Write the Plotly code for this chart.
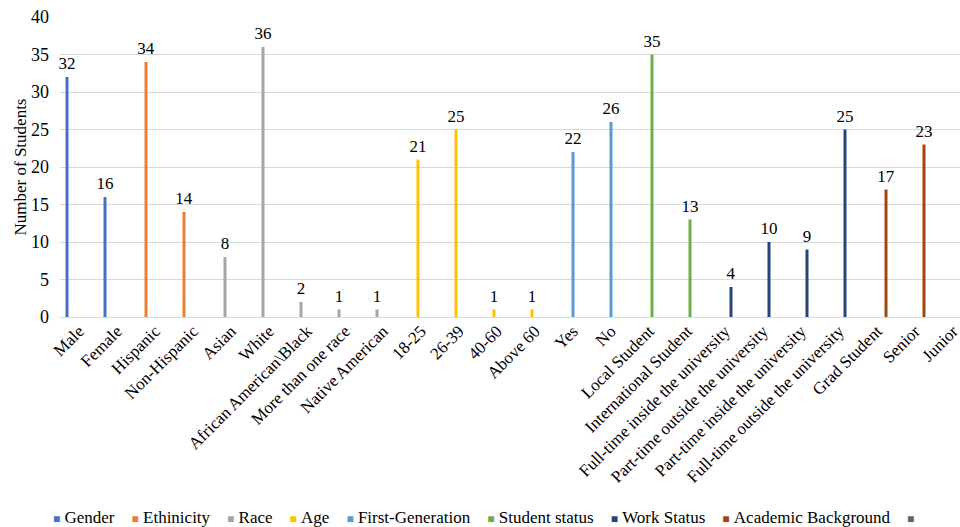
import plotly.graph_objects as go

categories = [
    "Male", "Female", "Hispanic", "Non-Hispanic", "Asian", "White",
    "African American\\Black", "More than one race", "Native American",
    "18-25", "26-39", "40-60", "Above 60", "Yes", "No",
    "Local Student", "International Student",
    "Full-time inside the university", "Part-time outside the university",
    "Part-time inside the university", "Full-time outside the university",
    "Grad Student", "Senior", "Junior",
]

series_names = ["Gender", "Ethinicity", "Race", "Age", "First-Generation",
                "Student status", "Work Status", "Academic Background", ""]

gender = [32, 16]
ethnicity = [34, 14]
race = [8, 36, 2, 1, 1]
age = [21, 25, 1, 1]
first_generation = [22, 26]
student_status = [35, 13]
work_status = [4, 10, 9, 25]
academic_background = [17, 23, 8]
blank_series = []

series_values = [gender, ethnicity, race, age, first_generation,
                 student_status, work_status, academic_background, blank_series]

colors = ["#4472C4", "#ED7D31", "#A5A5A5", "#FFC000", "#5B9BD5",
          "#70AD47", "#264478", "#9E480E", "#636363"]

FONT = "Liberation Serif"
LABEL_LIFT = 0.5  # gap (in axis units) between bar top and its value label

fig = go.Figure()

start = 0
for idx, (name, vals, col) in enumerate(zip(series_names, series_values, colors)):
    y = [None] * len(categories)
    for k, v in enumerate(vals):
        y[start + k] = v
    start += len(vals)
    grp = str(idx)
    # visible bars
    fig.add_trace(go.Bar(
        x=categories, y=y, name=name if name else " ",
        offsetgroup=grp,
        marker=dict(color=col, line=dict(width=0)),
        cliponaxis=True, showlegend=False, hoverinfo="x+y",
    ))
    # transparent spacer bars carrying the value labels a little above the bars
    lift = [LABEL_LIFT if v is not None else None for v in y]
    fig.add_trace(go.Bar(
        x=categories, y=lift, base=y, offsetgroup=grp,
        marker=dict(color="rgba(0,0,0,0)", line=dict(width=0)),
        text=[str(v) if v is not None else "" for v in y],
        textposition="outside", constraintext="none", cliponaxis=False,
        textfont=dict(family=FONT, size=17, color="#000000"),
        showlegend=False, hoverinfo="skip",
    ))

# legend drawn as a single text line
parts = []
for name, col in zip(series_names, colors):
    item = f"<span style='font-size:12px;color:{col}'>■</span>"
    if name:
        item += "\u00a0" + name
    parts.append(item)
legend_text = "\u00a0\u00a0\u00a0\u00a0".join(parts)

fig.add_annotation(
    text=legend_text, xref="paper", yref="paper", x=0.471, y=-0.667,
    xanchor="center", yanchor="middle", showarrow=False,
    font=dict(family=FONT, size=17, color="#000000"),
)

fig.update_layout(
    width=960, height=527,
    margin=dict(l=60, r=0, t=17, b=210),
    paper_bgcolor="white", plot_bgcolor="white",
    barmode="group", bargap=0.29, bargroupgap=0,
    font=dict(family=FONT, size=17, color="#000000"),
    showlegend=False,
    xaxis=dict(
        type="category", range=[-0.5, 23.184], tickangle=-45,
        showgrid=False, showline=False, ticks="",
        tickfont=dict(family=FONT, size=17, color="#000000"),
        automargin=False,
    ),
    yaxis=dict(
        range=[0, 40], dtick=5, showgrid=True, gridcolor="#D9D9D9", gridwidth=1,
        zeroline=True, zerolinecolor="#D9D9D9", zerolinewidth=1,
        showline=False, ticks="", ticklabelstandoff=10,
        tickfont=dict(family=FONT, size=18, color="#000000"),
        title=dict(text="Number of Students", font=dict(family=FONT, size=17, color="#000000"), standoff=0),
        automargin=False,
    ),
)

fig.write_html("out.html")
